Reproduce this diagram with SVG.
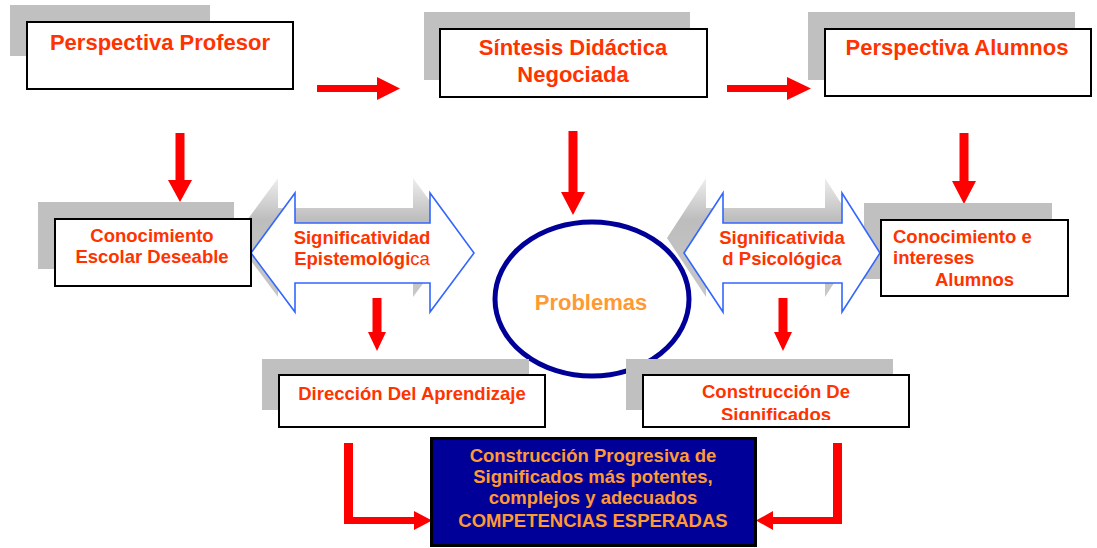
<svg xmlns="http://www.w3.org/2000/svg" width="1097" height="548" viewBox="0 0 1097 548">
<defs>
<style>
.sh{fill:#C0C0C0}
.bx{fill:#fff;stroke:#000;stroke-width:2}
.t{font-family:"Liberation Sans",Arial,sans-serif;font-weight:bold;fill:#FF3300}
.t22{font-size:22px}
.t18{font-size:18.5px}
.ar{fill:#FF0000}
.dbl{fill:#fff;stroke:#3366FF;stroke-width:1.6}
.dsh{fill:url(#gshadow)}
</style>
<linearGradient id="gshadow" x1="0" y1="0" x2="0" y2="1">
<stop offset="0" stop-color="#eeeeee"/>
<stop offset="0.35" stop-color="#bdbdbd"/>
<stop offset="1" stop-color="#c8c8c8"/>
</linearGradient>
<clipPath id="clipCS"><rect x="642" y="374" width="268" height="46"/></clipPath>
</defs>

<g id="connectors">
<polygon class="ar" points="317,85 377,85 377,77 400,88.5 377,100 377,92 317,92"/>
<polygon class="ar" points="727,85 787,85 787,77 811,88.5 787,100 787,92 727,92"/>
<polygon class="ar" points="175.5,133 184.5,133 184.5,180 192,180 180,202 168,180 175.5,180"/>
<polygon class="ar" points="568.5,131 577.5,131 577.5,192 585,192 573,215 561,192 568.5,192"/>
<polygon class="ar" points="959.5,133 968.5,133 968.5,181 976,181 964,204 952,181 959.5,181"/>
<polygon class="ar" points="372.5,298 381.5,298 381.5,332 386,332 377,351 368,332 372.5,332"/>
<polygon class="ar" points="778.5,298 787.5,298 787.5,332 792,332 783,351 774,332 778.5,332"/>
<polygon class="ar" points="344,443 353,443 353,517 414,517 414,511 432,520.5 414,530 414,524 344,524"/>
<polygon class="ar" points="842,443 833,443 833,517 773,517 773,511 756,520.5 773,530 773,524 842,524"/>
</g>

<g id="node-perspectiva-profesor">
<rect class="sh" x="10" y="5" width="200" height="51"/>
<rect class="bx" x="27" y="22" width="266" height="67"/>
<text class="t t22" x="160" y="50" text-anchor="middle">Perspectiva Profesor</text>
</g>

<g id="node-sintesis">
<rect class="sh" x="424" y="12" width="266" height="68"/>
<rect class="bx" x="440" y="29" width="267" height="68"/>
<text class="t t22" x="573" y="55" text-anchor="middle">Síntesis Didáctica</text>
<text class="t t22" x="573" y="82" text-anchor="middle">Negociada</text>
</g>

<g id="node-perspectiva-alumnos">
<rect class="sh" x="808" y="12" width="267" height="68"/>
<rect class="bx" x="825" y="29" width="266" height="67"/>
<text class="t t22" x="957" y="55" text-anchor="middle">Perspectiva Alumnos</text>
</g>

<g id="node-conocimiento-escolar">
<rect class="sh" x="38" y="202" width="196" height="67"/>
</g>
<g id="node-conocimiento-intereses-shadow">
<rect class="sh" x="864" y="203" width="188" height="76"/>
</g>

<g id="node-significatividad-epistemologica">
<polygon class="dsh" transform="translate(-17,-15)" points="251,253 295,193 295,223 430,223 430,193 474,253 430,312 430,283 295,283 295,312"/>
<polygon class="dbl" points="251,253 295,193 295,223 430,223 430,193 474,253 430,312 430,283 295,283 295,312"/>
<text class="t t18" x="362" y="244" text-anchor="middle">Significatividad</text>
<text class="t t18" x="362" y="265" text-anchor="middle">Epistemológi<tspan font-weight="normal">ca</tspan></text>
</g>

<g id="node-significatividad-psicologica">
<polygon class="dsh" transform="translate(-17,-15)" points="684,253 723,193 723,223 842,223 842,193 880,253 842,312 842,283 723,283 723,312"/>
<polygon class="dbl" points="684,253 723,193 723,223 842,223 842,193 880,253 842,312 842,283 723,283 723,312"/>
<text class="t t18" x="782" y="244" text-anchor="middle">Significativida</text>
<text class="t t18" x="782" y="265" text-anchor="middle">d Psicológica</text>
</g>

<g id="node-conocimiento-escolar-box">
<rect class="bx" x="55" y="219" width="196" height="67"/>
<text class="t t18" x="152" y="242" text-anchor="middle">Conocimiento</text>
<text class="t t18" x="152" y="263" text-anchor="middle">Escolar Deseable</text>
</g>

<g id="node-conocimiento-intereses">
<rect class="bx" x="881" y="220" width="187" height="76"/>
<text class="t t18" x="893" y="243">Conocimiento e</text>
<text class="t t18" x="893" y="264">intereses</text>
<text class="t t18" x="935" y="286">Alumnos</text>
</g>

<g id="node-problemas">
<ellipse cx="592" cy="299" rx="97" ry="77" fill="#fff" stroke="#000099" stroke-width="5"/>
<text x="591" y="310" text-anchor="middle" font-family="Liberation Sans, Arial, sans-serif" font-weight="bold" font-size="22" fill="#FF9933">Problemas</text>
</g>

<g id="node-direccion">
<rect class="sh" x="262" y="359" width="267" height="51"/>
<rect class="bx" x="279" y="375" width="266" height="52"/>
<text class="t t18" x="412" y="400" text-anchor="middle">Dirección Del Aprendizaje</text>
</g>

<g id="node-construccion-significados">
<rect class="sh" x="626" y="359" width="267" height="51"/>
<rect class="bx" x="643" y="375" width="266" height="52"/>
<g clip-path="url(#clipCS)">
<text class="t t18" x="776" y="398" text-anchor="middle">Construcción De</text>
<text class="t t18" x="776" y="421" text-anchor="middle">Significados</text>
</g>
</g>

<g id="node-competencias">
<rect x="431.5" y="438.5" width="324" height="107" fill="#000099" stroke="#000" stroke-width="3"/>
<g font-family="Liberation Sans, Arial, sans-serif" font-weight="bold" font-size="18.5" fill="#FF9933" text-anchor="middle">
<text x="593" y="462">Construcción Progresiva de</text>
<text x="593" y="483">Significados más potentes,</text>
<text x="593" y="504">complejos y adecuados</text>
<text x="593" y="527">COMPETENCIAS ESPERADAS</text>
</g>
</g>
</svg>
